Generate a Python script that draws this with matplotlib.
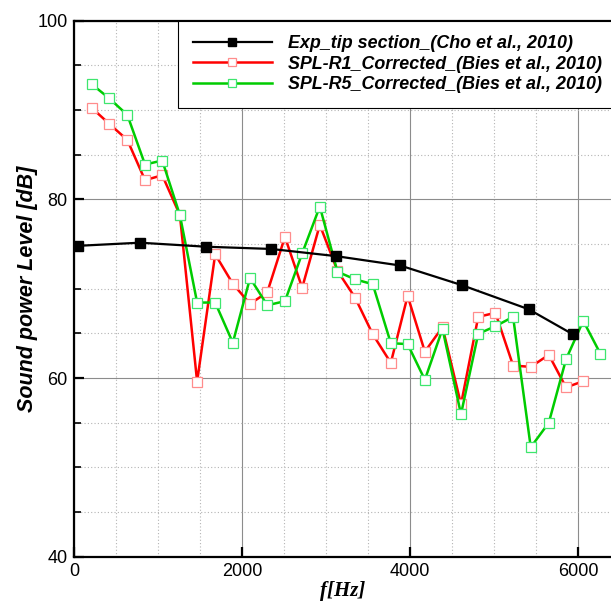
import matplotlib
matplotlib.use("Agg")
import matplotlib.pyplot as plt
from matplotlib.ticker import MultipleLocator

# measured tip-section spectrum
f_exp = [50, 785, 1570, 2345, 3115, 3880, 4615, 5410, 5935]
spl_exp = [74.8, 75.15, 74.7, 74.45, 73.65, 72.6, 70.4, 67.7, 64.9]

# corrected SPL, R1 and R5
f_r1 = [210, 420, 635, 845, 1050, 1260, 1465, 1680, 1890, 2095, 2300, 2510, 2715, 2925, 3135,
        3345, 3555, 3770, 3970, 4175, 4385, 4605, 4810, 5015, 5225, 5435, 5650, 5855, 6060]
spl_r1 = [90.25, 88.45, 86.65, 82.15, 82.7, 78.25, 59.6, 73.85, 70.55, 68.3, 69.6, 75.8, 70.1, 77.15, 72.0,
          69.0, 64.9, 61.7, 69.2, 62.95, 65.7, 57.05, 66.85, 67.3, 61.4, 61.25, 62.6, 58.95, 59.65]

f_r5 = [210, 420, 635, 845, 1050, 1260, 1465, 1680, 1890, 2095, 2300, 2510, 2715, 2925, 3135,
        3345, 3555, 3770, 3970, 4175, 4385, 4605, 4810, 5015, 5225, 5435, 5650, 5855, 6060, 6265]
spl_r5 = [92.9, 91.3, 89.45, 83.9, 84.35, 78.25, 68.45, 68.45, 63.95, 71.2, 68.15, 68.6, 73.95, 79.2, 71.9,
          71.05, 70.5, 63.9, 63.8, 59.8, 65.5, 55.95, 64.95, 65.8, 66.85, 52.25, 55.0, 62.1, 66.4, 62.7]

labels = ["Exp_tip section_(Cho et al., 2010)",
          "SPL-R1_Corrected_(Bies et al., 2010)",
          "SPL-R5_Corrected_(Bies et al., 2010)"]

plt.rcParams['font.family'] = ['Liberation Sans', 'DejaVu Sans']

fig = plt.figure(figsize=(6.11, 6.01), dpi=100)
ax = fig.add_axes([74 / 611, 1 - 556.7 / 601, 1 - 74 / 611, 536 / 601])

ax.plot(f_exp, spl_exp, color='black', lw=1.6, marker='s', ms=6.5,
        mfc='black', mec='black', label=labels[0], zorder=4)
ax.plot(f_r1, spl_r1, color='#ff0000', lw=1.8, marker='s', ms=7,
        mfc='white', mec='#ff8c8c', mew=0.9, label=labels[1], zorder=3)
ax.plot(f_r5, spl_r5, color='#00cc00', lw=1.8, marker='s', ms=7,
        mfc='white', mec='#3ee66e', mew=0.9, label=labels[2], zorder=3)

ax.set_xlim(0, 6390)
ax.set_ylim(40, 100)
ax.xaxis.set_major_locator(MultipleLocator(2000))
ax.xaxis.set_minor_locator(MultipleLocator(500))
ax.yaxis.set_major_locator(MultipleLocator(20))
ax.yaxis.set_minor_locator(MultipleLocator(5))

ax.grid(which='major', color='#8c8c8c', lw=0.8, ls='-')
ax.grid(which='minor', color='#b4b4b4', lw=0.8, ls=(0, (1, 2)))
ax.set_axisbelow(True)

ax.tick_params(which='major', direction='in', length=7.5, width=1.6,
               labelsize=13, pad=4.5, top=False, right=False)
ax.tick_params(axis='y', which='minor', direction='in', length=5, width=1.2)
ax.tick_params(axis='x', which='minor', length=0)

for side in ['left', 'bottom', 'top']:
    ax.spines[side].set_linewidth(1.6)
ax.spines['right'].set_visible(False)

ax.set_ylabel("Sound power Level [dB]", fontsize=15.5, fontweight='bold',
              fontstyle='italic', labelpad=-0.5)
ax.set_xlabel("f[Hz]", fontsize=15, fontweight='bold', fontstyle='italic',
              family='Liberation Serif', labelpad=1)

leg = ax.legend(loc='upper left', bbox_to_anchor=((178.3 - 74) / 537, 1.0),
                borderaxespad=0, numpoints=1, markerscale=0.8,
                handlelength=4.45, handletextpad=0.85,
                labelspacing=0.2, borderpad=0.8, fancybox=False, framealpha=1,
                edgecolor='black', prop={'size': 12.9, 'weight': 'bold', 'style': 'italic'})
leg.get_frame().set_linewidth(0.8)

fig.savefig("out.png", dpi=100)
